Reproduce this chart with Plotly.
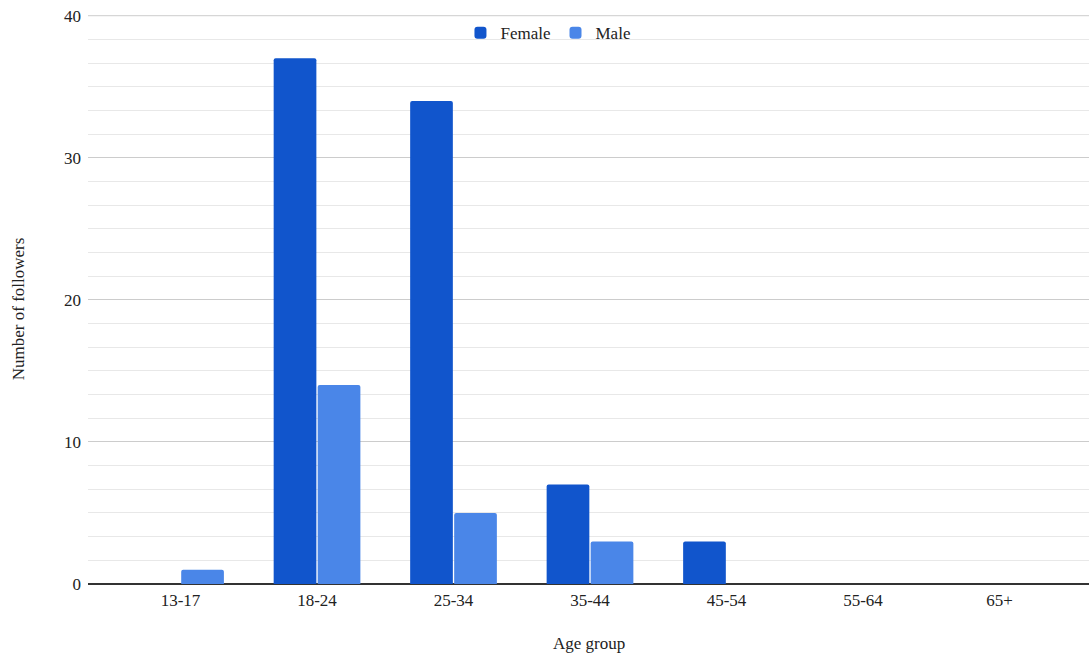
import plotly.graph_objects as go

# Followers by age group and gender
age_groups = ["13-17", "18-24", "25-34", "35-44", "45-54", "55-64", "65+"]
female = [0, 37, 34, 7, 3, 0, 0]
male = [1, 14, 5, 3, 0, 0, 0]

FONT = "Liberation Serif, Times New Roman, serif"
TEXT = "#222222"
Y_MAX = 40
positions = list(range(len(age_groups)))

fig = go.Figure()
fig.add_trace(go.Bar(name="Female", x=positions, y=female, marker_color="#1155cc",
                     marker_line_width=0))
fig.add_trace(go.Bar(name="Male", x=positions, y=male, marker_color="#4a86e8",
                     marker_line_width=0))

# top gridline at the edge of the value range
fig.add_hline(y=Y_MAX, line_color="#cccccc", line_width=1, layer="below")

fig.update_layout(
    width=1089, height=655,
    margin=dict(l=88, r=0, t=15, b=71),
    paper_bgcolor="white", plot_bgcolor="white",
    barmode="group", bargap=0.355, bargroupgap=0.03,
    barcornerradius=2,
    font=dict(family=FONT, size=17, color=TEXT),
    showlegend=True,
    legend=dict(orientation="h", x=0.4595, xanchor="center", y=0.968, yanchor="middle",
                bgcolor="rgba(0,0,0,0)", font=dict(family=FONT, size=17, color=TEXT),
                itemsizing="constant", tracegroupgap=0),
    xaxis=dict(
        range=[-0.678, 6.656],
        tickmode="array", tickvals=positions, ticktext=age_groups,
        showgrid=False, zeroline=False, showline=False, ticks="",
        ticklabelstandoff=4, fixedrange=True,
    ),
    yaxis=dict(
        range=[0, Y_MAX + 0.05], tickmode="linear", tick0=0, dtick=10,
        showgrid=True, gridcolor="#cccccc", gridwidth=1,
        minor=dict(dtick=10 / 6, showgrid=True, gridcolor="#e8e8e8", gridwidth=1),
        zeroline=True, zerolinecolor="#333333", zerolinewidth=1.5,
        showline=False, ticks="", ticklabelstandoff=6, fixedrange=True,
    ),
    annotations=[
        dict(text="Number of followers", xref="paper", yref="paper", x=0, y=0.483,
             xshift=-70, textangle=-90, showarrow=False, xanchor="center", yanchor="middle",
             font=dict(family=FONT, size=17, color=TEXT)),
        dict(text="Age group", xref="paper", yref="paper", x=0.5, y=0,
             yshift=-59, showarrow=False, xanchor="center", yanchor="middle",
             font=dict(family=FONT, size=17, color=TEXT)),
    ],
)

fig.write_html("out.html")
